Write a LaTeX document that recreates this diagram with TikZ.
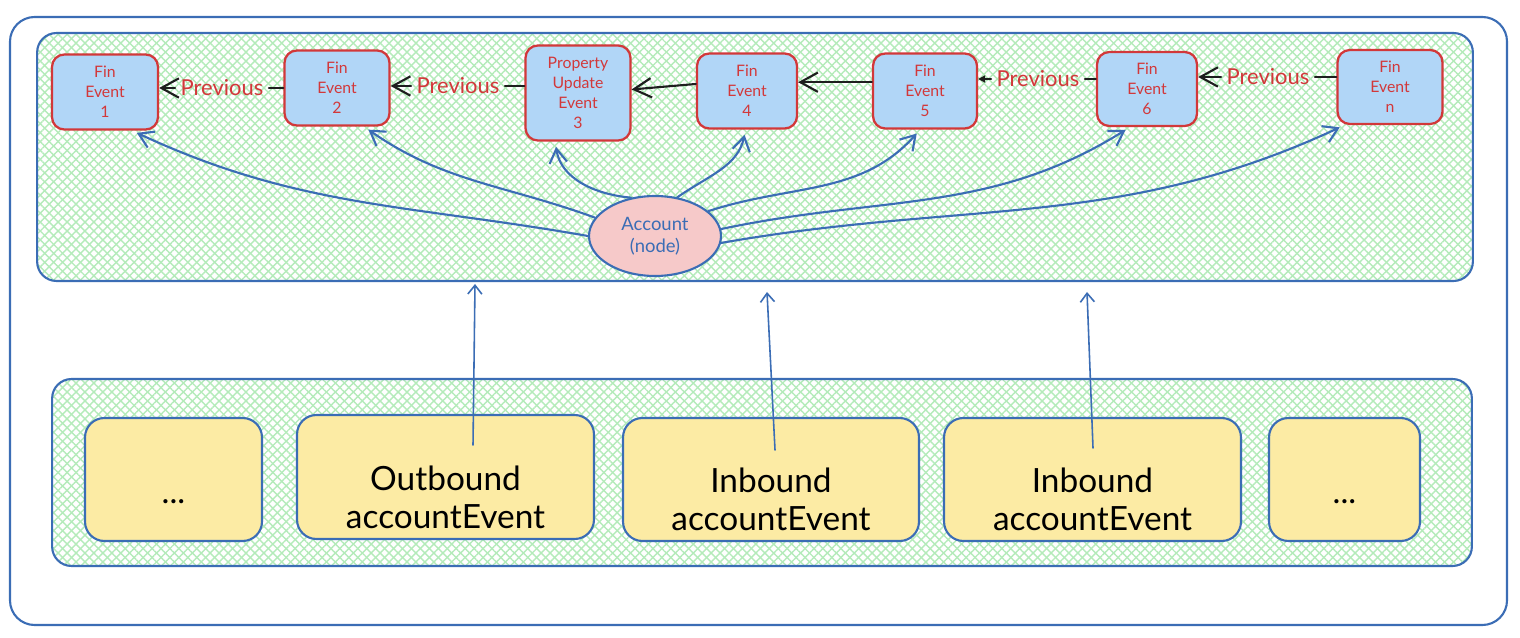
\documentclass[tikz,border=0pt]{standalone}
\usepackage{fontspec}
\setmainfont{Lato}
\usetikzlibrary{arrows.meta,patterns.meta,shapes.geometric,positioning}
\definecolor{edgeblue}{HTML}{3B6DB5}
\definecolor{finred}{HTML}{D2383A}
\definecolor{finblue}{HTML}{B1D6F7}
\definecolor{evyellow}{HTML}{FCEBA4}
\definecolor{acctpink}{HTML}{F6C9C9}
\definecolor{hatchgreen}{HTML}{B4EBBA}
\definecolor{inkblack}{HTML}{1E1E1E}
\tikzset{
  panel/.style={draw=edgeblue, line width=1.2pt, rounded corners=11pt,
    preaction={pattern={Lines[angle=45,distance=3.6pt,line width=.8pt]}, pattern color=hatchgreen},
    pattern={Lines[angle=-45,distance=3.6pt,line width=.8pt]}, pattern color=hatchgreen},
  finbox/.style={draw=finred, fill=finblue, line width=1.3pt, rounded corners=7pt, align=center,
    text=finred, font=\fontsize{9}{11.3}\selectfont, minimum height=1.5cm, inner sep=1pt},
  evbox/.style={draw=edgeblue, fill=evyellow, line width=1.2pt, rounded corners=11pt, align=center,
    font=\fontsize{19}{21.5}\selectfont, minimum height=2.46cm, inner sep=1pt},
  prevlabel/.style={text=finred, font=\fontsize{12.5}{14}\selectfont, inner sep=3pt},
  prevlink/.style={draw=inkblack, line width=1.2pt, >={Straight Barb[length=10pt,width=11pt]}},
  acclink/.style={draw=edgeblue, line width=1.2pt, ->, shorten >=3pt},
  uplink/.style={draw=edgeblue, line width=.9pt, -{Straight Barb[length=5pt,width=8pt]}},
}
\begin{document}
\begin{tikzpicture}[x=0.02cm, y=-0.02cm, line join=round, line cap=round, >={Straight Barb[length=8pt,width=10pt]}]
	\useasboundingbox (0,0) rectangle (1520,638);
	% outer frame and the two panels
	\draw[edgeblue, line width=1.2pt, fill=white, rounded corners=14pt] (10,17) rectangle (1507,625);
	\node[panel, minimum width=28.72cm, minimum height=4.96cm] (top) at (755,157) {};
	\node[panel, minimum width=28.4cm, minimum height=3.74cm] (bot) at (762,472.5) {};
	% event chain
	\node[finbox, minimum width=2.12cm] (fe1) at (105,92) {Fin\\Event\\1};
	\node[finbox, minimum width=2.1cm] (fe2) at (337,88) {Fin\\Event\\2};
	\node[finbox, minimum width=2.1cm, minimum height=1.9cm] (pue) at (578,93) {Property\\Update\\Event\\3};
	\node[finbox, minimum width=2.0cm] (fe4) at (747,91) {Fin\\Event\\4};
	\node[finbox, minimum width=2.08cm] (fe5) at (925,91) {Fin\\Event\\5};
	\node[finbox, minimum width=2.0cm, minimum height=1.48cm] (fe6) at (1147,89) {Fin\\Event\\6};
	\node[finbox, minimum width=2.1cm, minimum height=1.48cm] (fen) at (1390,87) {Fin\\Event\\n};
	\node[prevlabel] (p1) at (222,88) {Previous};
	\node[prevlabel] (p2) at (458,86) {Previous};
	\node[prevlabel] (p3) at (1038,79) {Previous};
	\node[prevlabel] (p4) at (1268,77) {Previous};
	\draw[prevlink] (fe2.west |- p1) -- (p1.east);
	\draw[prevlink,->] (p1.west) -- (p1 -| fe1.east);
	\draw[prevlink] (pue.west |- p2) -- (p2.east);
	\draw[prevlink,->] (p2.west) -- (p2 -| fe2.east);
	\draw[prevlink,->] ([yshift=4pt]fe4.west) -- ([yshift=2pt]pue.east);
	\draw[prevlink,->] ([yshift=5pt]fe5.west) -- ([yshift=5pt]fe5.west -| fe4.east);
	\draw[prevlink] (fe6.west |- p3) -- (p3.east);
	\draw[prevlink,-{Triangle[length=4pt,width=4pt]}] (p3.west) -- (p3 -| fe5.east);
	\draw[prevlink] (fen.west |- p4) -- (p4.east);
	\draw[prevlink,->] (p4.west) -- (p4 -| fe6.east);
	% account node
	\node[ellipse, draw=edgeblue, fill=acctpink, line width=1.2pt, minimum width=2.64cm, minimum height=1.6cm,
		text=edgeblue, align=center, font=\fontsize{10.5}{12.5}\selectfont] (acct) at (655,236) {Account\\(node)};
	\draw[acclink] (acct.180) to[out=170,in=-25] (fe1.-55);
	\draw[acclink] (acct.163) to[out=160,in=-35] (fe2.-55);
	\draw[acclink] (acct.122) to[out=175,in=-82] (pue.-115);
	\draw[acclink] (acct.60) to[out=35,in=-102] (fe4.-92);
	\draw[acclink] (acct.25) to[out=18,in=-132] (fe5.-97);
	\draw[acclink] (acct.6) to[out=12,in=-148] (fe6.-114);
	\draw[acclink] (acct.-6) to[out=10,in=-155] (fen.-140);
	% account events
	\node[evbox, minimum width=3.54cm] (dots1) at (173.5,479.5) {\rule{0pt}{28pt}...};
	\node[evbox, minimum width=5.94cm, minimum height=2.48cm] (outb) at (445.5,477) {\rule{0pt}{37pt}Outbound\\accountEvent};
	\node[evbox, minimum width=5.92cm] (inb1) at (771,479.5) {\rule{0pt}{37pt}Inbound\\accountEvent};
	\node[evbox, minimum width=5.94cm] (inb2) at (1092.5,479.5) {\rule{0pt}{37pt}Inbound\\accountEvent};
	\node[evbox, minimum width=3.02cm] (dots2) at (1344.5,479.5) {\rule{0pt}{28pt}...};
	\coordinate (s1) at (473,445); \coordinate (t1) at (475,284);
	\coordinate (s2) at (775,450); \coordinate (t2) at (767,292);
	\coordinate (s3) at (1093,448); \coordinate (t3) at (1087,292);
	\foreach \i in {1,2,3}\draw[uplink] (s\i) -- (t\i);
\end{tikzpicture}
\end{document}
